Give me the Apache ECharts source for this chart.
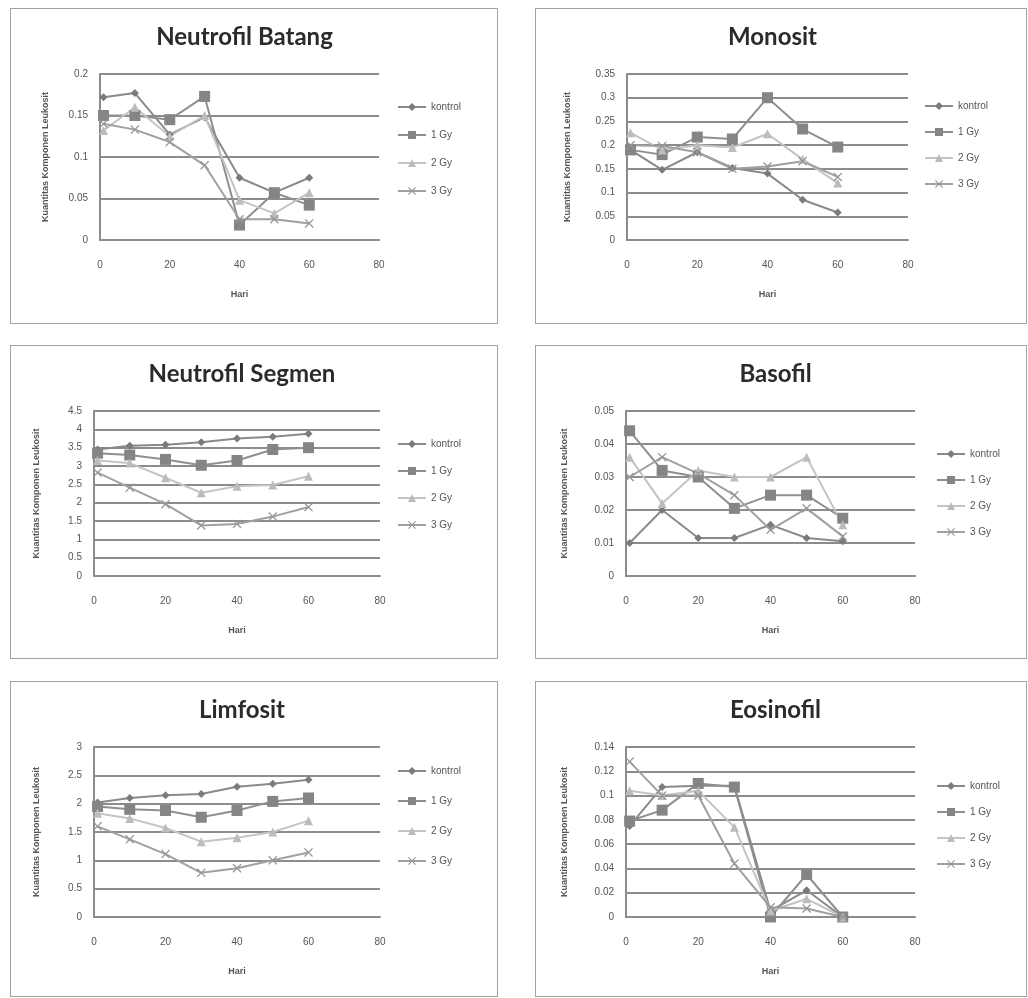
<!DOCTYPE html>
<html lang="id">
<head>
    <meta charset="UTF-8">
    <title>Komponen Leukosit</title>
    <style>
        body {
            margin: 0;
            background: #fff;
        }

        .panel {
            position: absolute;
            border: 1px solid #a3a3a3;
            box-sizing: border-box;
        }
    </style>
</head>
<body>
<script src="https://cdn.jsdelivr.net/npm/echarts@6/dist/echarts.min.js"></script>
<script>

    var days = [1, 10, 20, 30, 40, 50, 60];
    var seriesNames = ['kontrol', '1 Gy', '2 Gy', '3 Gy'];

    // Neutrofil Batang
    var batangKontrol = [0.172, 0.177, 0.127, 0.148, 0.075, 0.057, 0.075];
    var batang1Gy = [0.15, 0.15, 0.145, 0.173, 0.018, 0.057, 0.042];
    var batang2Gy = [0.132, 0.16, 0.125, 0.15, 0.048, 0.032, 0.057];
    var batang3Gy = [0.14, 0.133, 0.118, 0.09, 0.025, 0.025, 0.02];

    // Monosit
    var monoKontrol = [0.19, 0.148, 0.185, 0.152, 0.14, 0.085, 0.058];
    var mono1Gy = [0.19, 0.18, 0.217, 0.213, 0.3, 0.234, 0.196];
    var mono2Gy = [0.226, 0.19, 0.2, 0.195, 0.224, 0.17, 0.12];
    var mono3Gy = [0.2, 0.198, 0.185, 0.15, 0.155, 0.166, 0.133];

    // Neutrofil Segmen
    var segmenKontrol = [3.45, 3.55, 3.58, 3.65, 3.75, 3.8, 3.88];
    var segmen1Gy = [3.35, 3.3, 3.18, 3.02, 3.15, 3.45, 3.5];
    var segmen2Gy = [3.15, 3.08, 2.68, 2.27, 2.45, 2.48, 2.72];
    var segmen3Gy = [2.82, 2.41, 1.96, 1.38, 1.42, 1.62, 1.88];

    // Basofil
    var basoKontrol = [0.01, 0.02, 0.0115, 0.0115, 0.0155, 0.0115, 0.0105];
    var baso1Gy = [0.044, 0.032, 0.03, 0.0205, 0.0245, 0.0245, 0.0175];
    var baso2Gy = [0.036, 0.022, 0.032, 0.03, 0.03, 0.036, 0.0155];
    var baso3Gy = [0.03, 0.036, 0.031, 0.0245, 0.014, 0.0205, 0.012];

    // Limfosit
    var limfoKontrol = [2.02, 2.1, 2.15, 2.17, 2.3, 2.35, 2.42];
    var limfo1Gy = [1.95, 1.9, 1.88, 1.76, 1.88, 2.04, 2.1];
    var limfo2Gy = [1.83, 1.74, 1.57, 1.33, 1.4, 1.5, 1.7];
    var limfo3Gy = [1.6, 1.37, 1.11, 0.78, 0.86, 1.0, 1.14];

    // Eosinofil
    var eosKontrol = [0.075, 0.107, 0.108, 0.108, 0.005, 0.022, 0];
    var eos1Gy = [0.079, 0.088, 0.11, 0.107, 0, 0.035, 0];
    var eos2Gy = [0.104, 0.1, 0.104, 0.074, 0.005, 0.015, 0];
    var eos3Gy = [0.128, 0.1, 0.1, 0.044, 0.008, 0.007, 0];

    var crossPath = 'path://M0,1L1,0L5,4L9,0L10,1L6,5L10,9L9,10L5,6L1,10L0,9L4,5Z';

    var styles = [
        {symbol: 'diamond', symbolSize: 8, color: '#7b7b7b', line: '#8a8a8a'},
        {symbol: 'rect', symbolSize: 11, color: '#858585', line: '#8f8f8f'},
        {symbol: 'triangle', symbolSize: 9, color: '#bcbcbc', line: '#c4c4c4'},
        {symbol: crossPath, symbolSize: 9, color: '#969696', line: '#a0a0a0'}
    ];

    var make = function (box, title, values, yMax, yInterval) {
        var div = document.createElement('div');
        div.className = 'panel';
        div.style.left = box.left + 'px';
        div.style.top = box.top + 'px';
        div.style.width = box.width + 'px';
        div.style.height = box.height + 'px';
        document.body.appendChild(div);

        var series = values.map(function (arr, i) {
            var s = styles[i];
            return {
                name: seriesNames[i],
                type: 'line',
                symbol: s.symbol,
                symbolSize: s.symbolSize,
                showAllSymbol: true,
                itemStyle: {color: s.color},
                lineStyle: {color: s.line, width: 2},
                data: days.map(function (d, k) {
                    return [d, arr[k]];
                })
            };
        });

        var option = {
            animation: false,
            title: {
                text: title,
                left: box.grid.left + box.grid.width / 2,
                textAlign: 'center',
                top: 11,
                textStyle: {
                    fontFamily: 'Lato',
                    fontSize: 24,
                    fontWeight: 'bold',
                    color: '#2b2b2b'
                }
            },
            legend: {
                orient: 'vertical',
                left: box.legend.left,
                top: box.legend.top,
                itemGap: box.legend.gap,
                itemWidth: 28,
                itemHeight: 10,
                textStyle: {fontFamily: 'Liberation Sans', fontSize: 10, color: '#555'},
                data: seriesNames
            },
            grid: {
                left: box.grid.left,
                top: box.grid.top,
                width: box.grid.width,
                height: box.grid.height
            },
            xAxis: {
                type: 'value',
                min: 0,
                max: 80,
                interval: 20,
                name: 'Hari',
                nameLocation: 'middle',
                nameGap: 50,
                nameTextStyle: {fontFamily: 'Liberation Sans', fontSize: 9, fontWeight: 'bold', color: '#555'},
                axisLine: {show: true, lineStyle: {color: '#8c8c8c', width: 2}},
                axisTick: {show: false},
                splitLine: {show: false},
                axisLabel: {fontFamily: 'Liberation Sans', fontSize: 10, color: '#555', margin: 20}
            },
            yAxis: {
                type: 'value',
                min: 0,
                max: yMax,
                interval: yInterval,
                name: 'Kuantitas Komponen Leukosit',
                nameLocation: 'middle',
                nameGap: box.yNameGap,
                nameTextStyle: {fontFamily: 'Liberation Sans', fontSize: 9, fontWeight: 'bold', color: '#555'},
                axisLine: {show: true, lineStyle: {color: '#8c8c8c', width: 2}},
                axisTick: {show: false},
                splitLine: {lineStyle: {color: '#8c8c8c', width: 2}},
                axisLabel: {
                    fontFamily: 'Liberation Sans',
                    fontSize: 10,
                    color: '#555',
                    margin: 12,
                    formatter: function (v) {
                        return String(+v.toFixed(4));
                    }
                }
            },
            series: series
        };

        var chart = echarts.init(div, null, {renderer: 'canvas'});
        chart.setOption(option);
    };

    make({left: 10, top: 8, width: 488, height: 316, yNameGap: 50,
            grid: {left: 89, top: 65, width: 279, height: 166},
            legend: {left: 381, top: 88, gap: 18}},
        'Neutrofil Batang', [batangKontrol, batang1Gy, batang2Gy, batang3Gy], 0.2, 0.05);

    make({left: 535, top: 8, width: 492, height: 316, yNameGap: 55,
            grid: {left: 91, top: 65, width: 281, height: 166},
            legend: {left: 383, top: 87, gap: 16}},
        'Monosit', [monoKontrol, mono1Gy, mono2Gy, mono3Gy], 0.35, 0.05);

    make({left: 10, top: 345, width: 488, height: 314, yNameGap: 53,
            grid: {left: 83, top: 65, width: 286, height: 165},
            legend: {left: 381, top: 88, gap: 17}},
        'Neutrofil Segmen', [segmenKontrol, segmen1Gy, segmen2Gy, segmen3Gy], 4.5, 0.5);

    make({left: 535, top: 345, width: 492, height: 314, yNameGap: 57,
            grid: {left: 90, top: 65, width: 289, height: 165},
            legend: {left: 395, top: 98, gap: 16}},
        'Basofil', [basoKontrol, baso1Gy, baso2Gy, baso3Gy], 0.05, 0.01);

    make({left: 10, top: 681, width: 488, height: 316, yNameGap: 53,
            grid: {left: 83, top: 65, width: 286, height: 170},
            legend: {left: 381, top: 79, gap: 20}},
        'Limfosit', [limfoKontrol, limfo1Gy, limfo2Gy, limfo3Gy], 3, 0.5);

    make({left: 535, top: 681, width: 492, height: 316, yNameGap: 57,
            grid: {left: 90, top: 65, width: 289, height: 170},
            legend: {left: 395, top: 94, gap: 16}},
        'Eosinofil', [eosKontrol, eos1Gy, eos2Gy, eos3Gy], 0.14, 0.02);
</script>
</body>
</html>
